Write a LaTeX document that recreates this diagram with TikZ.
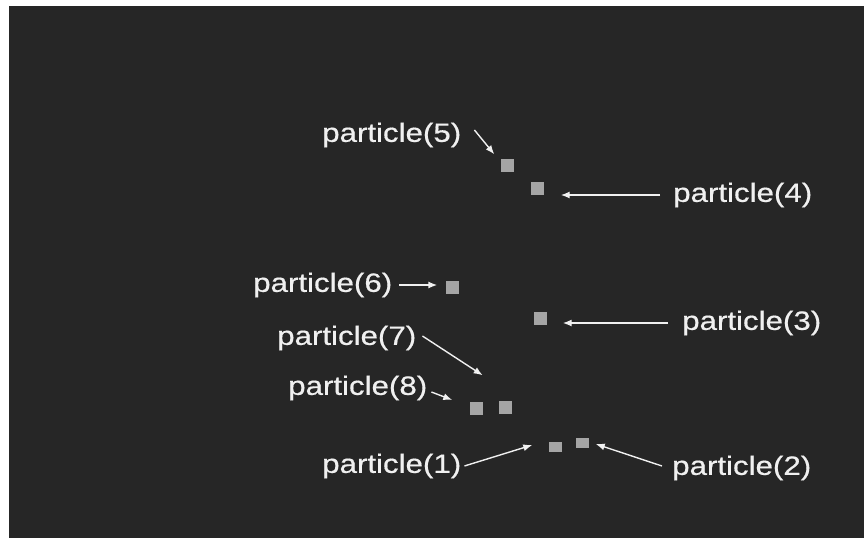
\documentclass[tikz,border=0pt]{standalone}
\usepackage{fontspec}
\usepackage{tikz}
\usetikzlibrary{arrows.meta}
\newfontfamily\labelfont[FakeStretch=1.18,FakeBold=0.6]{Liberation Sans}
\definecolor{plate}{RGB}{38,38,38}
\definecolor{speck}{RGB}{165,165,165}
\definecolor{ink}{RGB}{240,240,240}
\tikzset{
  grain/.style={fill=speck, inner sep=0pt, minimum width=13pt, minimum height=13pt},
  flatgrain/.style={grain, minimum height=10pt},
  tag/.style={anchor=west, inner sep=0pt, text=ink, font=\labelfont\fontsize{26.5}{28}\selectfont},
  pointer/.style={draw=ink, line width=1.4pt, -{Latex[length=9pt,width=7pt]}}
}
\newcommand{\grainnode}[3] {\node at (#1) (#2) [#3] {};}
\newcommand{\tagnode}[3] {\node at (#1) (#2) [tag] {#3};}

\begin{document}
\begin{tikzpicture}[x=1pt, y=-1pt]
\useasboundingbox (0,0) rectangle (864,538);
\fill[white] (0,0) rectangle (864,538);
\fill[plate] (9,6) rectangle (864,538);

% particles
\grainnode {555,447} {p1} {flatgrain};
\grainnode {582,443} {p2} {flatgrain};
\grainnode {540,318} {p3} {grain};
\grainnode {537,188} {p4} {grain};
\grainnode {507,165} {p5} {grain};
\grainnode {452,287} {p6} {grain};
\grainnode {505,407} {p7} {grain};
\grainnode {476,408} {p8} {grain};

% labels
\tagnode {322,466} {l1} {particle(1)};
\tagnode {672,468} {l2} {particle(2)};
\tagnode {682,323} {l3} {particle(3)};
\tagnode {673,195} {l4} {particle(4)};
\tagnode {322,135} {l5} {particle(5)};
\tagnode {253,285} {l6} {particle(6)};
\tagnode {277,338} {l7} {particle(7)};
\tagnode {288,388} {l8} {particle(8)};

% arrows
\draw [pointer] ([xshift=3pt]l1.east) -- ([xshift=-16pt,yshift=2pt]p1.west);
\draw [pointer] ([xshift=-10pt,yshift=2pt]l2.west) -- ([xshift=7pt,yshift=-1pt]p2.east);
\draw [pointer, shorten <=14pt, shorten >=16pt] (l3.west) -- (p3.east |- l3.west);
\draw [pointer, shorten <=13pt, shorten >=17pt] (l4.west) -- (p4.east |- l4.west);
\draw [pointer] ([xshift=13pt,yshift=5pt]l5.east) -- ([xshift=-6pt,yshift=4pt]p5.north west);
\draw [pointer, shorten <=7pt, shorten >=8pt] (l6.east) -- (p6.west |- l6.east);
\draw [pointer] ([xshift=6pt,yshift=2pt]l7.east) -- ([yshift=26pt]p8.north east);
\draw [pointer] ([xshift=4pt,yshift=-4pt]l8.east) -- ([xshift=-17pt,yshift=8pt]p8.west);

\end{tikzpicture}
\end{document}
